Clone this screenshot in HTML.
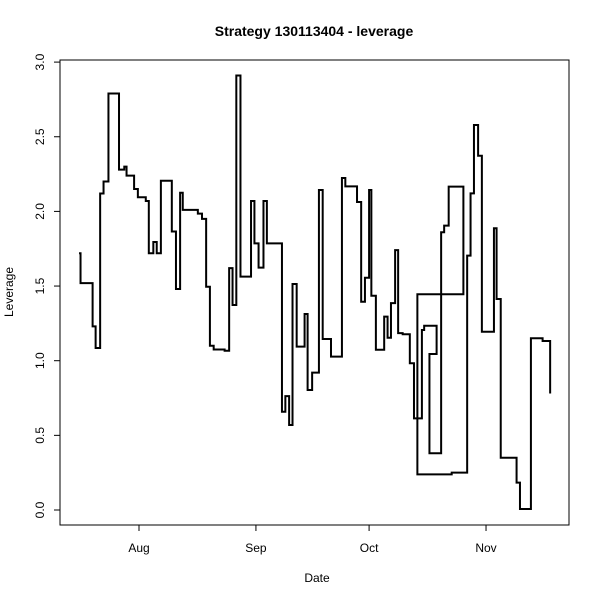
<!DOCTYPE html>
<html><head><meta charset="utf-8"><style>
body{margin:0;background:#fff}
svg text{font-family:"Liberation Sans",Arial,sans-serif;fill:#000}
</style></head><body>
<svg id="chart" width="600" height="600">
<rect x="0" y="0" width="600" height="600" fill="#fff"/>
<text x="314" y="36" font-size="14" font-weight="bold" text-anchor="middle">Strategy 130113404 - leverage</text>
<rect x="60" y="60" width="509" height="465" fill="none" stroke="#000" stroke-width="1"/>
<text x="317" y="582" font-size="12" text-anchor="middle">Date</text>
<text x="0" y="0" font-size="12" text-anchor="middle" transform="translate(13,292) rotate(-90)">Leverage</text>
<g id="xaxis"></g>
<g id="yaxis"></g>
<path id="series" fill="none" stroke="#000" stroke-width="2"/>
</svg>
<script>
const days=[-15.9,-15.5,-12.3,-11.5,-10.3,-9.4,-8.1,-5.3,-3.9,-3.3,-1.3,-0.3,1.8,2.6,3.8,4.7,5.8,8.7,9.8,10.9,11.6,15.6,16.7,17.8,18.8,19.8,22.7,23.9,24.8,25.8,26.9,29.7,30.6,31.7,33.0,33.9,37.9,38.8,39.8,40.7,41.8,43.9,44.7,45.9,47.7,48.7,50.9,53.8,54.7,57.8,58.9,59.9,61.0,61.6,62.8,65.0,65.9,66.8,67.9,68.7,69.9,71.8,72.9,75.0,75.6,78.9,77.0,80.1,80.9,82.1,86.0,73.8,82.9,87.0,87.9,88.8,89.9,90.9,94.1,94.8,95.9,100.1,101.0,103.9,107.0,109.0];
const leverage=[1.72,1.52,1.23,1.085,2.12,2.20,2.79,2.28,2.30,2.24,2.15,2.095,2.07,1.72,1.795,1.72,2.205,1.865,1.48,2.125,2.01,1.985,1.95,1.495,1.10,1.075,1.067,1.62,1.373,2.91,1.563,2.07,1.786,1.623,2.07,1.786,0.658,0.763,0.569,1.514,1.094,1.313,0.804,0.92,2.143,1.145,1.027,2.224,2.168,2.063,1.395,1.556,2.143,1.435,1.073,1.295,1.154,1.386,1.741,1.185,1.177,0.983,0.614,1.206,1.234,1.045,0.38,1.86,1.905,2.166,1.445,0.239,0.25,1.704,2.121,2.579,2.373,1.194,1.887,1.413,0.35,0.183,0.007,1.15,1.132,0.78];
const xTickLabels=["Aug","Sep","Oct","Nov"];
const xTickDays=[0,31,61,92];
const yTicks=[0,0.5,1,1.5,2,2.5,3];
const yTickLabels=["0.0","0.5","1.0","1.5","2.0","2.5","3.0"];
const xs=d=>139+d*3.772;
const ys=v=>510-v*149.3;
const NS="http://www.w3.org/2000/svg";
let d="M"+xs(days[0])+","+ys(leverage[0]);
for(let i=1;i<days.length;i++){d+=" H"+xs(days[i])+" V"+ys(leverage[i]);}
document.getElementById('series').setAttribute('d',d);
const xa=document.getElementById('xaxis');
xTickDays.forEach((t,i)=>{
 const l=document.createElementNS(NS,'line');
 l.setAttribute('x1',xs(t));l.setAttribute('x2',xs(t));l.setAttribute('y1',525);l.setAttribute('y2',531);l.setAttribute('stroke','#000');
 
 
 xa.appendChild(l);
 const tx=document.createElementNS(NS,'text');
 tx.setAttribute('x',xs(t));tx.setAttribute('y',552);tx.setAttribute('font-size','12');tx.setAttribute('text-anchor','middle');
 tx.textContent=xTickLabels[i];
 
 
 xa.appendChild(tx);
});
const yl=document.createElementNS(NS,'line');
yl.setAttribute('x1',60);yl.setAttribute('x2',60);yl.setAttribute('y1',ys(3));yl.setAttribute('y2',ys(0));yl.setAttribute('stroke','#000');


document.getElementById('yaxis').appendChild(yl);
const ya=document.getElementById('yaxis');
yTicks.forEach((t,i)=>{
 const l=document.createElementNS(NS,'line');
 l.setAttribute('x1',54);l.setAttribute('x2',60);l.setAttribute('y1',ys(t));l.setAttribute('y2',ys(t));l.setAttribute('stroke','#000');
 
 
 ya.appendChild(l);
 const tx=document.createElementNS(NS,'text');
 tx.setAttribute('font-size','12');tx.setAttribute('text-anchor','middle');
 tx.setAttribute('transform','translate(44,'+ys(t)+') rotate(-90)');
 tx.textContent=yTickLabels[i];
 
 
 ya.appendChild(tx);
});
</script>
</body></html>
